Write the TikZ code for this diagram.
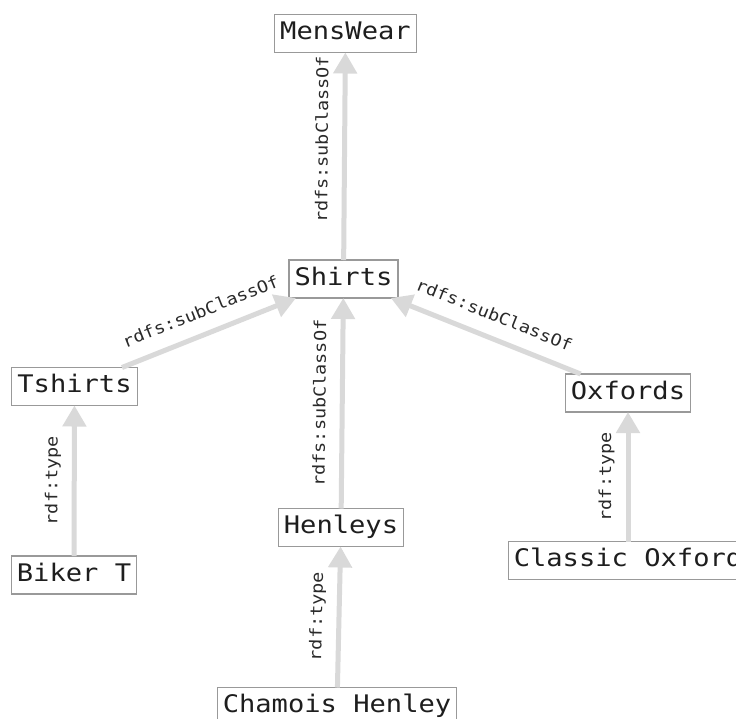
\documentclass[tikz,border=0pt]{standalone}
\usepackage{fontspec}
\usetikzlibrary{arrows.meta}
\newfontfamily\boxfont[FakeStretch=1.12]{DejaVu Sans Mono}
\definecolor{edgegray}{HTML}{D9D9D9}
\definecolor{bordergray}{HTML}{999999}
\definecolor{inkgray}{HTML}{1E1E1E}
\definecolor{lblgray}{HTML}{2A2A2A}
\begin{document}
\begin{tikzpicture}[x=1pt,y=-1pt,
  cls/.style={draw=bordergray, line width=1.1pt, fill=white,
    font=\boxfont\fontsize{24.2}{28}\selectfont, text=inkgray,
    inner xsep=5.5pt, inner ysep=0pt, minimum height=38pt, outer sep=0pt,
    text height=17.5pt, text depth=5pt},
  rel/.style={draw=edgegray, line width=5pt, -{Triangle[length=21pt,width=23pt]}},
  lbl/.style={font=\boxfont\fontsize{16.5}{19}\selectfont, text=lblgray,
    sloped, inner sep=0pt, text height=11.5pt, text depth=3.8pt, above=10.5pt}
]
\useasboundingbox (0,0) rectangle (736,718);
\clip (0,0) rectangle (736,718);
\fill[white] (0,0) rectangle (736,718);

\node[cls] (mens) at (345.5,33.5) {MensWear};
\node[cls] (shirts) at (343.5,279) {Shirts};
\node[cls] (tshirts) at (74.5,386.5) {Tshirts};
\node[cls] (oxfords) at (628,393) {Oxfords};
\node[cls] (henleys) at (341,527.5) {Henleys};
\node[cls] (biker) at (74,575) {Biker T};
\node[cls] (classic) at (628,560.5) {Classic Oxford};
\node[cls] (chamois) at (337,706.5) {Chamois Henley};

\draw[rel] (shirts) -- node[lbl, pos=0.58] {rdfs:subClassOf} (mens);
\draw[rel] (tshirts) -- node[lbl] {rdfs:subClassOf} (shirts);
\draw[rel] (oxfords) -- node[lbl] {rdfs:subClassOf} (shirts);
\draw[rel] (henleys) -- node[lbl] {rdfs:subClassOf} (shirts);
\draw[rel] (biker) -- node[lbl] {rdf:type} (tshirts);
\draw[rel] (classic) -- node[lbl] {rdf:type} (oxfords);
\draw[rel] (chamois) -- node[lbl] {rdf:type} (henleys);
\end{tikzpicture}
\end{document}
